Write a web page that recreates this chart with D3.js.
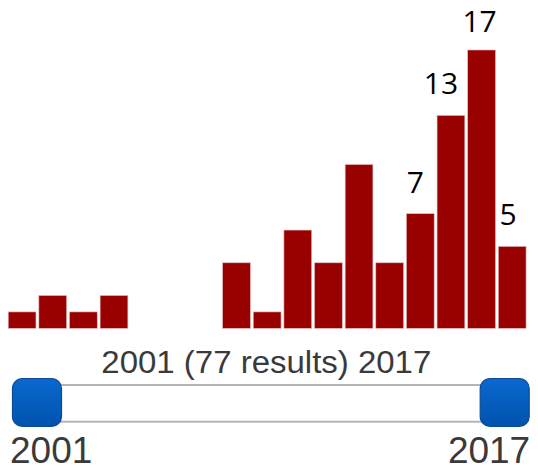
<!DOCTYPE html>
<html>
<head>
<meta charset="utf-8">
<script src="https://cdn.jsdelivr.net/npm/d3@7"></script>
<style>
  html, body { margin: 0; padding: 0; background: #fff; }
  svg { display: block; }
</style>
</head>
<body>
<svg id="chart" width="538" height="471"></svg>
<script>
// publications per year
var years = [2001, 2002, 2003, 2004, 2005, 2006, 2007, 2008, 2009, 2010, 2011, 2012, 2013, 2014, 2015, 2016, 2017];
var counts = [1, 2, 1, 2, 0, 0, 0, 4, 1, 6, 4, 10, 4, 7, 13, 17, 5];
var labelled = [2014, 2015, 2016, 2017];
var rangeStart = 2001;
var rangeEnd = 2017;

var svg = d3.select("#chart");
var total = d3.sum(counts);

var data = years.map(function(y, i){ return {year: y, value: counts[i]}; });

var x = d3.scaleBand()
	.domain(years)
	.range([6.8, 527.5])
	.paddingInner(0.095)
	.paddingOuter(0.047);

var y = d3.scaleLinear()
	.domain([0, 17])
	.range([328.3, 50]);

svg.append("g")
	.selectAll("rect")
	.data(data.filter(function(d){ return d.value > 0; }))
	.enter().append("rect")
	.attr("x", function(d){ return x(d.year); })
	.attr("y", function(d){ return y(d.value); })
	.attr("width", x.bandwidth())
	.attr("height", function(d){ return y(0) - y(d.value); })
	.style("fill", "#990000")
	.style("stroke", "#e3b3b3")
	.style("stroke-width", 0.6);

// little nudges so the numbers sit like in the original
var nudge = {2014: -5, 2015: -10, 2016: -2, 2017: -4};
svg.append("g")
	.selectAll("text")
	.data(data.filter(function(d){ return labelled.indexOf(d.year) >= 0; }))
	.enter().append("text")
	.attr("x", function(d){ return x(d.year) + x.bandwidth() / 2 + nudge[d.year]; })
	.attr("y", function(d){ return y(d.value) - (d.year == 2016 ? 18 : 21); })
	.attr("text-anchor", "middle")
	.style("font-family", "'Open Sans', sans-serif")
	.style("font-size", "30px")
	.style("fill", "#000")
	.text(function(d){ return d.value; });

// slider
var sx = d3.scaleLinear().domain([rangeStart, rangeEnd]).range([37, 504.7]);

svg.append("text")
	.attr("x", 266.3)
	.attr("y", 373.3)
	.attr("text-anchor", "middle")
	.attr("textLength", 330)
	.attr("lengthAdjust", "spacingAndGlyphs")
	.style("font-family", "'Liberation Sans', Arial, sans-serif")
	.style("font-size", "31px")
	.style("fill", "#3a3a3a")
	.text(rangeStart + " (" + total + " results) " + rangeEnd);

svg.append("rect")
	.attr("x", sx(rangeStart))
	.attr("y", 385)
	.attr("width", sx(rangeEnd) - sx(rangeStart))
	.attr("height", 36.7)
	.style("fill", "#fff")
	.style("stroke", "#b4b4b4")
	.style("stroke-width", 2);

var grad = svg.append("defs").append("linearGradient")
	.attr("id", "knob")
	.attr("x1", 0).attr("y1", 0).attr("x2", 0).attr("y2", 1);
grad.append("stop").attr("offset", "0%").attr("stop-color", "#0a68cf");
grad.append("stop").attr("offset", "100%").attr("stop-color", "#0053ad");

svg.append("g")
	.selectAll("rect")
	.data([rangeStart, rangeEnd])
	.enter().append("rect")
	.attr("x", function(d){ return sx(d) - 24.5; })
	.attr("y", 378.5)
	.attr("width", 49)
	.attr("height", 48)
	.attr("rx", 10)
	.style("fill", "url(#knob)")
	.style("stroke", "#0b4a96")
	.style("stroke-width", 1.2);

svg.append("text")
	.attr("x", sx(rangeStart) - 27)
	.attr("y", 463.3)
	.attr("text-anchor", "start")
	.style("font-family", "'Liberation Sans', Arial, sans-serif")
	.style("font-size", "37px")
	.style("fill", "#3a3a3a")
	.text(rangeStart);

svg.append("text")
	.attr("x", sx(rangeEnd) + 25.5)
	.attr("y", 463.3)
	.attr("text-anchor", "end")
	.style("font-family", "'Liberation Sans', Arial, sans-serif")
	.style("font-size", "37px")
	.style("fill", "#3a3a3a")
	.text(rangeEnd);
</script>
</body>
</html>
